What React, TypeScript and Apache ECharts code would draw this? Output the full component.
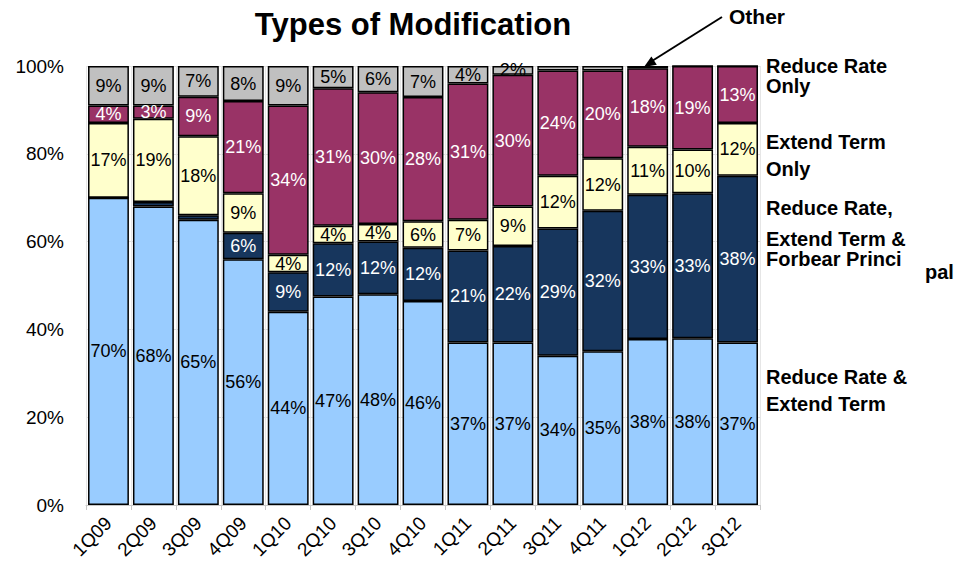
import React, { useEffect, useRef } from "react";
import * as echarts from "echarts";

const categories = ["1Q09", "2Q09", "3Q09", "4Q09", "1Q10", "2Q10", "3Q10", "4Q10", "1Q11", "2Q11", "3Q11", "4Q11", "1Q12", "2Q12", "3Q12"];
const reduceRateExtendTerm = [70, 68, 65, 56, 44, 47, 48, 46, 37, 37, 34, 35, 38, 38, 37];
const reduceRateExtendForbear = [0, 1, 1, 6, 9, 12, 12, 12, 21, 22, 29, 32, 33, 33, 38];
const extendTermOnly = [17, 19, 18, 9, 4, 4, 4, 6, 7, 9, 12, 12, 11, 10, 12];
const reduceRateOnly = [4, 3, 9, 21, 34, 31, 30, 28, 31, 30, 24, 20, 18, 19, 13];
const other = [9, 9, 7, 8, 9, 5, 6, 7, 4, 2, 1, 1, 0.5, 0, 0];
const yTicks = [0, 20, 40, 60, 80, 100];

const FONT = "'Liberation Sans', Arial, sans-serif";

export default function App() {
  const ref = useRef<HTMLDivElement>(null);
  useEffect(() => {
    if (!ref.current) return;
    const chart = echarts.init(ref.current, null, { renderer: "svg" });
    const raw = [reduceRateExtendTerm, reduceRateExtendForbear, extendTermOnly, reduceRateOnly, other];
    const totals = categories.map((_, i) => raw.reduce((s, arr) => s + arr[i], 0));
    const names = ["Reduce Rate & Extend Term", "Reduce Rate, Extend Term & Forbear Principal", "Extend Term Only", "Reduce Rate Only", "Other"];
    const colors = ["#99CCFF", "#17365D", "#FFFFCC", "#993366", "#C0C0C0"];
    const labelColors = ["#000", "#fff", "#000", "#fff", "#000"];
    const series = raw.map((arr, si) => ({
      name: names[si],
      type: "bar",
      stack: "total",
      barCategoryGap: "9%",
      data: arr.map((v, i) => ({ value: (v / totals[i]) * 100, raw: v })),
      itemStyle: { color: colors[si], borderColor: "#000", borderWidth: 1.5 },
      label: {
        show: true,
        position: "inside",
        color: labelColors[si],
        fontFamily: FONT,
        fontSize: 18,
        formatter: (p: any) => (p.data.raw >= 2 ? `${p.data.raw}%` : ""),
      },
    }));

    const sideText = (x: number, y: number, text: string, lh = 20.5, size = 20) => ({
      type: "text",
      x,
      y,
      style: { text, fontFamily: FONT, fontWeight: "bold", fontSize: size, lineHeight: lh, fill: "#000", textAlign: "left", textVerticalAlign: "middle" },
    });

    chart.setOption({
      animation: false,
      grid: { left: 86, right: 197, top: 66, bottom: 61 },
      xAxis: {
        type: "category",
        data: categories,
        axisLine: { show: true, lineStyle: { color: "#c8c8c8" } },
        axisTick: { show: true, length: 5, lineStyle: { color: "#c8c8c8" } },
        splitLine: { show: true, lineStyle: { color: "#e6e6e6" } },
        axisLabel: { rotate: 45, fontFamily: FONT, fontSize: 19, color: "#000", margin: 15 },
      },
      yAxis: {
        type: "value",
        min: yTicks[0],
        max: yTicks[yTicks.length - 1],
        interval: 20,
        axisLine: { show: false },
        axisTick: { show: false },
        splitLine: { show: true, lineStyle: { color: "#e0e0e0" } },
        axisLabel: { formatter: "{value}%", fontFamily: FONT, fontSize: 19, color: "#000", margin: 22 },
      },
      series,
      graphic: [
        {
          type: "text",
          x: 413,
          y: 24,
          style: { text: "Types of Modification", fontFamily: FONT, fontWeight: "bold", fontSize: 31, fill: "#000", textAlign: "center", textVerticalAlign: "middle" },
        },
        sideText(729, 16, "Other", 21, 21),
        { type: "line", shape: { x1: 722, y1: 17, x2: 652, y2: 61 }, style: { stroke: "#000", lineWidth: 2 } },
        { type: "polygon", shape: { points: [[644, 67], [656.8, 64.8], [651.4, 56.4]] }, style: { fill: "#000" } },
        sideText(766, 76, "Reduce Rate\nOnly"),
        sideText(766, 155, "Extend Term\nOnly", 27),
        sideText(766, 208, "Reduce Rate,"),
        sideText(766, 249, "Extend Term &\nForbear Princi"),
        sideText(925, 272, "pal"),
        sideText(766, 390, "Reduce Rate &\nExtend Term", 27),
      ],
    });
    return () => chart.dispose();
  }, []);
  return <div ref={ref} style={{ position: "absolute", left: 0, top: 0, width: 957, height: 566 }} />;
}
